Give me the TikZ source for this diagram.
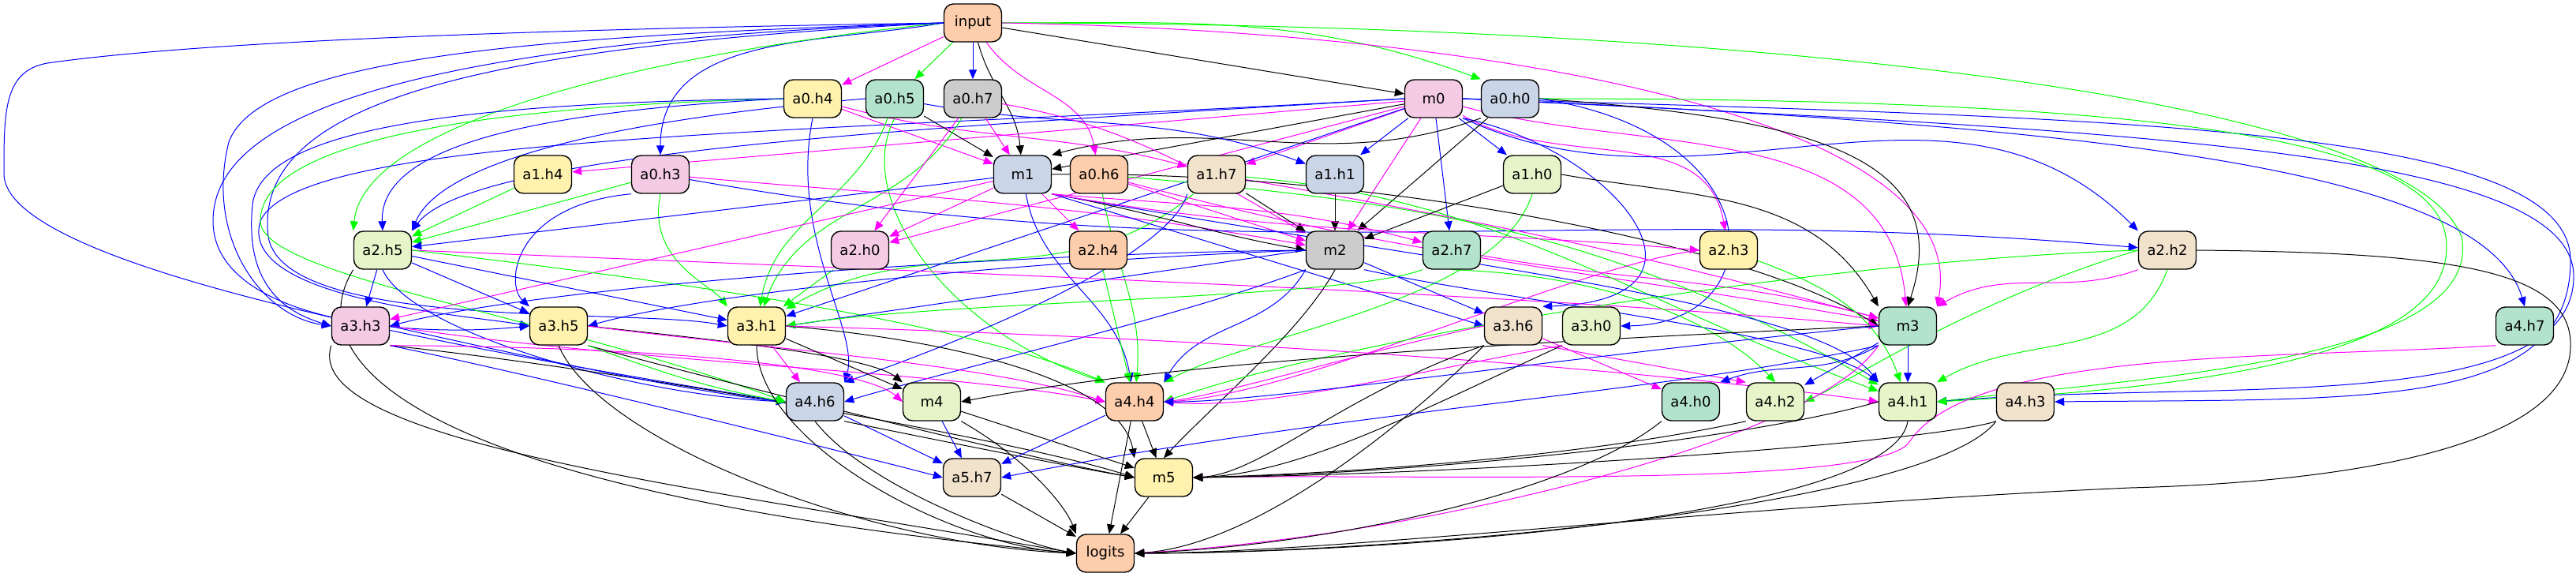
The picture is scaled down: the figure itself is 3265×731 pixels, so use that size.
\documentclass[tikz,border=0pt]{standalone}
\usepackage{fontspec}
\setmainfont{DejaVu Sans}
\usetikzlibrary{arrows.meta,backgrounds}
\definecolor{cPeach}{HTML}{FDCDAC}
\definecolor{cYel}{HTML}{FFF2AE}
\definecolor{cMint}{HTML}{B3E2CD}
\definecolor{cGrey}{HTML}{CCCCCC}
\definecolor{cPink}{HTML}{F4CAE4}
\definecolor{cBlu}{HTML}{CBD5E8}
\definecolor{cLGr}{HTML}{E6F5C9}
\definecolor{cBei}{HTML}{F1E2CC}
\definecolor{eblue}{RGB}{0,0,255}
\definecolor{egreen}{RGB}{0,255,0}
\definecolor{emag}{RGB}{255,0,255}
\tikzset{
  nd/.style={draw=black, line width=0.7pt, rounded corners=6pt, minimum width=36.5pt, minimum height=24pt, inner sep=0pt, font=\fontsize{9}{11}\selectfont},
  ar/.style={-{Triangle[length=6pt,width=5pt]}, line width=0.5pt},
  eB/.style={ar, draw=eblue},
  eG/.style={ar, draw=egreen},
  eM/.style={ar, draw=emag},
  eK/.style={ar, draw=black},
}
\begin{document}
\begin{tikzpicture}[x=0.5pt,y=-0.5pt]
\useasboundingbox (0,0) rectangle (3265,731);
% nodes
\node[nd, fill=cPeach] (input) at (1233,29) {input};
\node[nd, fill=cYel] (a0h4) at (1030,125) {a0.h4};
\node[nd, fill=cMint] (a0h5) at (1134,125) {a0.h5};
\node[nd, fill=cGrey] (a0h7) at (1233,125) {a0.h7};
\node[nd, fill=cPink] (m0) at (1817,125) {m0};
\node[nd, fill=cBlu] (a0h0) at (1914,125) {a0.h0};
\node[nd, fill=cYel] (a1h4) at (688,221) {a1.h4};
\node[nd, fill=cPink] (a0h3) at (837,221) {a0.h3};
\node[nd, fill=cBlu] (m1) at (1296,221) {m1};
\node[nd, fill=cPeach] (a0h6) at (1393,221) {a0.h6};
\node[nd, fill=cBei] (a1h7) at (1542,221) {a1.h7};
\node[nd, fill=cBlu] (a1h1) at (1692,221) {a1.h1};
\node[nd, fill=cLGr] (a1h0) at (1942,221) {a1.h0};
\node[nd, fill=cLGr] (a2h5) at (485,317) {a2.h5};
\node[nd, fill=cPink] (a2h0) at (1090,317) {a2.h0};
\node[nd, fill=cPeach] (a2h4) at (1392,317) {a2.h4};
\node[nd, fill=cGrey] (m2) at (1692,317) {m2};
\node[nd, fill=cMint] (a2h7) at (1840,317) {a2.h7};
\node[nd, fill=cYel] (a2h3) at (2191,317) {a2.h3};
\node[nd, fill=cBei] (a2h2) at (2747,317) {a2.h2};
\node[nd, fill=cPink] (a3h3) at (457,413) {a3.h3};
\node[nd, fill=cYel] (a3h5) at (708,413) {a3.h5};
\node[nd, fill=cYel] (a3h1) at (959,413) {a3.h1};
\node[nd, fill=cBei] (a3h6) at (1918,413) {a3.h6};
\node[nd, fill=cLGr] (a3h0) at (2017,413) {a3.h0};
\node[nd, fill=cMint] (m3) at (2418,413) {m3};
\node[nd, fill=cMint] (a4h7) at (3200,413) {a4.h7};
\node[nd, fill=cBlu] (a4h6) at (1033,509) {a4.h6};
\node[nd, fill=cLGr] (m4) at (1181,509) {m4};
\node[nd, fill=cPeach] (a4h4) at (1438,509) {a4.h4};
\node[nd, fill=cMint] (a4h0) at (2143,509) {a4.h0};
\node[nd, fill=cLGr] (a4h2) at (2250,509) {a4.h2};
\node[nd, fill=cLGr] (a4h1) at (2418,509) {a4.h1};
\node[nd, fill=cBei] (a4h3) at (2567,509) {a4.h3};
\node[nd, fill=cBei] (a5h7) at (1232,605) {a5.h7};
\node[nd, fill=cYel] (m5) at (1475,605) {m5};
\node[nd, fill=cPeach] (logits) at (1401,701) {logits};
\begin{scope}[on background layer]
% from input
\draw[eM] (input) -- (a0h4);
\draw[eG] (input) -- (a0h5);
\draw[eB] (input) -- (a0h7);
\draw[eK] (input) to[out=-75,in=95] (m1);
\draw[eM] (input) to[out=-55,in=100] (a0h6);
\draw[eK] (input) -- (m0);
\draw[eG] (input.east) to[out=0,in=160] (a0h0.north west);
\draw[eB] (input.west) to[out=190,in=90] (a0h3.north);
\draw[eG] (input.west) .. controls (800,70) and (460,160) .. (a2h5.north west);
\draw[eB] (input.west) .. controls (500,40) and (200,60) .. (60,80) .. controls (5,90) and (5,140) .. (5,220) .. controls (5,330) and (500,430) .. (a4h6.west);
\draw[eB] (input.west) .. controls (700,45) and (330,70) .. (290,180) .. controls (260,300) and (330,400) .. (a3h3.west);
\draw[eB] (input.west) .. controls (600,60) and (320,130) .. (340,300) .. controls (360,420) and (800,390) .. (a3h1.west);
\draw[eB] (input.west) .. controls (500,55) and (270,150) .. (270,280) .. controls (270,400) and (500,430) .. (a3h5.west);
\draw[eG] (input.east) .. controls (2200,30) and (3050,120) .. (3120,300) .. controls (3150,460) and (2700,480) .. (a4h1.east);
\draw[eM] (input.east) .. controls (1900,40) and (2500,150) .. (m3.north east);
% from m0
\draw[eK] (m0) -- (m1);
\draw[eM] (m0) -- (a1h4);
\draw[eM] (m0) -- (a1h7);
\draw[eB] (m0) -- (a1h1);
\draw[eB] (m0) -- (a1h0);
\draw[eM] (m0) -- (m2);
\draw[eB] (m0) -- (a2h7);
\draw[eM] (m0) -- (a2h0);
\draw[eM] (m0) to[out=-30,in=100] (a2h3);
\draw[eB] (m0.west) .. controls (1200,160) and (600,190) .. (a2h5.north east);
\draw[eB] (m0.west) .. controls (1000,170) and (380,170) .. (330,280) .. controls (300,380) and (600,400) .. (a3h5.west);
\draw[eB] (m0.south east) .. controls (2050,190) and (2200,380) .. (a3h6.north east);
\draw[eM] (m0) to[out=-15,in=95] (m3);
\draw[eB] (m0.east) .. controls (2700,160) and (3150,220) .. (a4h7.north);
\draw[eB] (m0.east) .. controls (2700,150) and (3258,160) .. (3258,330) .. controls (3258,520) and (3000,505) .. (a4h3.east);
\draw[eB] (m0.east) .. controls (2700,165) and (3262,190) .. (3262,350) .. controls (3262,530) and (2800,480) .. (a4h1.east);
\draw[eB] (m0.south east) to[out=-25,in=135] (a2h2.north west);
\draw[eB] (m0) -- (a3h1);
% from a0h0
\draw[eK] (a0h0.south west) to[out=200,in=15] (m1.north east);
\draw[eK] (a0h0) -- (m2);
\draw[eK] (a0h0.east) .. controls (2300,150) and (2480,200) .. (m3.north);
\draw[eG] (a0h0.east) .. controls (2700,125) and (3080,170) .. (3100,300) .. controls (3120,450) and (2800,490) .. (a4h1.east);
\draw[eB] (a0h0.east) .. controls (2250,170) and (2250,410) .. (a3h0.east);
% from a0h4
\draw[eM] (a0h4) -- (m1);
\draw[eM] (a0h4) to[out=-15,in=165] (a1h7);
\draw[eB] (a0h4.west) .. controls (700,140) and (480,180) .. (a2h5.north);
\draw[eG] (a0h4.west) .. controls (600,135) and (330,180) .. (330,280) .. controls (330,350) and (700,400) .. (a4h6.west);
\draw[eB] (a0h4.west) .. controls (600,130) and (330,160) .. (320,260) .. controls (310,360) and (360,395) .. (a3h3.west);
\draw[eB] (a0h4.south) .. controls (1000,300) and (1090,420) .. (a4h6.north east);
% from a0h5
\draw[eK] (a0h5) -- (m1);
\draw[eB] (a0h5.west) .. controls (800,150) and (560,200) .. (a2h5.north east);
\draw[eB] (a0h5) to[out=-10,in=160] (a1h1);
\draw[eG] (a0h5) to[out=-110,in=80] (a3h1);
\draw[eG] (a0h5.south) .. controls (1080,250) and (1200,420) .. (a4h4.north west);
% from a0h7
\draw[eM] (a0h7) -- (m1);
\draw[eM] (a0h7) to[out=-10,in=150] (m2);
\draw[eG] (a0h7) to[out=-120,in=70] (a3h1);
\draw[eM] (a0h7) -- (a2h0);
% from a0h3
\draw[eG] (a0h3) -- (a2h5);
\draw[eB] (a0h3.south west) .. controls (650,260) and (640,360) .. (a3h5.north west);
\draw[eM] (a0h3) to[out=-5,in=170] (m2);
\draw[eB] (a0h3) to[out=-10,in=175] (a2h2);
\draw[eG] (a0h3.south) .. controls (820,330) and (900,360) .. (a3h1.north west);
% from a0h6
\draw[eM] (a0h6) -- (m2);
\draw[eM] (a0h6) to[out=-15,in=170] (m3);
\draw[eG] (a0h6) to[out=-80,in=85] (a4h4);
\draw[eG] (a0h6) to[out=-5,in=150] (a4h1);
% from a1
\draw[eG] (a1h4) -- (a2h5);
\draw[eK] (a1h7) -- (m2);
\draw[eG] (a1h7) to[out=-140,in=30] (a3h1);
\draw[eB] (a1h7.south west) .. controls (1480,330) and (1200,440) .. (a4h6.north east);
\draw[eM] (a1h7) to[out=-10,in=165] (m3);
\draw[eG] (a1h7) to[out=-5,in=160] (a4h1);
\draw[eK] (a1h1) -- (m2);
\draw[eK] (a1h0) -- (m2);
\draw[eK] (a1h0.east) to[out=-10,in=120] (m3.north west);
\draw[eG] (a1h0.south) .. controls (1900,380) and (1600,420) .. (a4h4.north east);
% from m1
\draw[eM] (m1) -- (a2h0);
\draw[eM] (m1) -- (a2h4);
\draw[eK] (m1.south east) to[out=-10,in=170] (m2.west);
\draw[eB] (m1) -- (a2h5);
\draw[eM] (m1) -- (a3h3);
\draw[eB] (m1) to[out=-80,in=100] (a4h4);
\draw[eB] (m1.south east) -- (a3h6.west);
\draw[eK] (m1.east) .. controls (1700,215) and (2200,300) .. (m3.west);
\draw[eB] (m1.south east) .. controls (1800,330) and (2300,380) .. (a4h1.north west);
\draw[eM] (m1.south east) to[out=-5,in=165] (a2h7);
\draw[eM] (m1.south east) to[out=-10,in=175] (a2h3.west);
% from a2h5
\draw[eB] (a2h5) -- (a3h3);
\draw[eB] (a2h5) -- (a3h1);
\draw[eB] (a2h5) -- (a3h5);
\draw[eM] (a2h5.east) .. controls (1200,345) and (1900,370) .. (m3.west);
\draw[eK] (a2h5.south west) .. controls (380,450) and (500,620) .. (logits.west);
\draw[eB] (a2h5.south) .. controls (520,420) and (800,500) .. (a4h6.west);
\draw[eG] (a2h5.east) .. controls (800,350) and (1200,400) .. (a4h4.north west);
% a2 others
\draw[eG] (a2h0) -- (a3h1);
\draw[eG] (a2h4) -- (a4h4);
\draw[eB] (m2) -- (a3h6);
\draw[eB] (m2.west) .. controls (1300,330) and (900,370) .. (a3h5.east);
\draw[eB] (m2.west) -- (a3h1.east);
\draw[eB] (m2.west) .. controls (1300,320) and (700,360) .. (a3h3.east);
\draw[eB] (m2.south west) .. controls (1500,400) and (1200,470) .. (a4h6.east);
\draw[eK] (m2.south) .. controls (1650,420) and (1530,520) .. (m5.north);
\draw[eB] (m2.south east) .. controls (1900,380) and (2300,420) .. (a4h1.north west);
\draw[eB] (m2.south west) to[out=-120,in=60] (a4h4.north east);
\draw[eG] (a2h7.south west) .. controls (1700,380) and (1200,380) .. (a3h1.east);
\draw[eM] (a2h7) to[out=-10,in=165] (m3);
\draw[eG] (a2h7.south) .. controls (2080,350) and (2200,430) .. (a4h2.north);
\draw[eG] (a2h3) to[out=-20,in=110] (a4h1);
\draw[eM] (a2h3.west) .. controls (2000,335) and (1650,500) .. (a4h4.east);
\draw[eK] (a2h2.east) .. controls (3100,320) and (3262,340) .. (3258,440) .. controls (3255,560) and (3000,610) .. (2700,618) .. controls (2200,640) and (1700,700) .. (logits.east);
\draw[eG] (a2h2.west) .. controls (2500,380) and (2350,480) .. (a4h2.east);
\draw[eG] (a2h2.south) to[out=-110,in=30] (a4h1.north east);
\draw[eM] (a2h2.south west) to[out=-160,in=30] (m3.north east);
\draw[eG] (a2h2.west) .. controls (2300,330) and (1700,430) .. (a4h4.east);
% from a3
\draw[eK] (a3h3.south west) .. controls (380,560) and (900,620) .. (logits.west);
\draw[eK] (a3h3.south east) .. controls (800,470) and (1300,560) .. (m5.west);
\draw[eB] (a3h3.south east) .. controls (700,480) and (1100,580) .. (a5h7.west);
\draw[eM] (a3h3.east) .. controls (800,460) and (1200,470) .. (a4h4.west);
\draw[eB] (a3h3.east) .. controls (700,460) and (900,500) .. (a4h6.west);
\draw[eM] (a3h3.south east) .. controls (900,440) and (1100,470) .. (m4.west);
\draw[eK] (a3h5.south) .. controls (760,560) and (1100,690) .. (logits.west);
\draw[eK] (a3h5.east) .. controls (900,430) and (1100,450) .. (m4.north west);
\draw[eK] (a3h5.south east) .. controls (900,480) and (1300,580) .. (m5.west);
\draw[eM] (a3h5.east) .. controls (950,440) and (1250,460) .. (a4h4.west);
\draw[eG] (a3h5.south east) to[out=-20,in=170] (a4h6.west);
\draw[eK] (a3h1.south) .. controls (960,560) and (1200,690) .. (logits.west);
\draw[eM] (a3h1) -- (a4h6);
\draw[eK] (a3h1) -- (m4);
\draw[eK] (a3h1.east) .. controls (1200,430) and (1420,480) .. (m5.north west);
\draw[eM] (a3h1.east) .. controls (1600,430) and (2100,470) .. (a4h1.west);
\draw[eK] (a3h6.south west) .. controls (1700,500) and (1600,600) .. (m5.east);
\draw[eK] (a3h6.south west) .. controls (1800,520) and (1600,690) .. (logits.east);
\draw[eM] (a3h6) -- (a4h0);
\draw[eM] (a3h6.south east) -- (a4h2.north west);
\draw[eM] (a3h6.west) .. controls (1750,440) and (1550,500) .. (a4h4.east);
\draw[eK] (a3h0.south west) .. controls (1800,520) and (1650,600) .. (m5.east);
\draw[eM] (a3h0.south west) .. controls (1800,470) and (1600,520) .. (a4h4.east);
% from m3
\draw[eB] (m3) -- (a4h1);
\draw[eB] (m3) -- (a4h2);
\draw[eB] (m3.south west) to[out=-150,in=20] (a4h0.north east);
\draw[eM] (m3.south west) .. controls (2300,560) and (1800,680) .. (logits.east);
\draw[eB] (m3.south west) .. controls (2100,500) and (1700,520) .. (a5h7.east);
\draw[eK] (m3.west) .. controls (2000,430) and (1500,455) .. (m4.east);
\draw[eB] (m3.west) .. controls (2000,450) and (1600,510) .. (a4h4.east);
\draw[eM] (a4h7.south west) .. controls (2900,455) and (2500,440) .. (2420,560) .. controls (2380,620) and (1800,600) .. (m5.east);
% row 4
\draw[eB] (a4h6) -- (a5h7);
\draw[eK] (a4h6.south east) .. controls (1200,560) and (1350,590) .. (m5.west);
\draw[eK] (a4h6.south) .. controls (1100,620) and (1300,690) .. (logits.west);
\draw[eB] (m4) -- (a5h7);
\draw[eK] (m4) -- (m5);
\draw[eK] (m4.south east) .. controls (1300,580) and (1350,640) .. (logits.north west);
\draw[eK] (a4h4) -- (m5);
\draw[eK] (a4h4) -- (logits);
\draw[eB] (a4h4) -- (a5h7);
\draw[eK] (a4h0.south west) .. controls (2000,620) and (1700,690) .. (logits.east);
\draw[eK] (a4h2.south west) .. controls (2000,580) and (1700,600) .. (m5.east);
\draw[eK] (a4h1.west) .. controls (2200,560) and (1800,600) .. (m5.east);
\draw[eK] (a4h1.south) .. controls (2400,650) and (1800,700) .. (logits.east);
\draw[eK] (a4h3.south west) .. controls (2450,560) and (1900,600) .. (m5.east);
\draw[eK] (a4h3.south west) .. controls (2450,640) and (1800,700) .. (logits.east);
\draw[eK] (m5) -- (logits);
\draw[eK] (a5h7) -- (logits);
\end{scope}
\end{tikzpicture}
\end{document}
